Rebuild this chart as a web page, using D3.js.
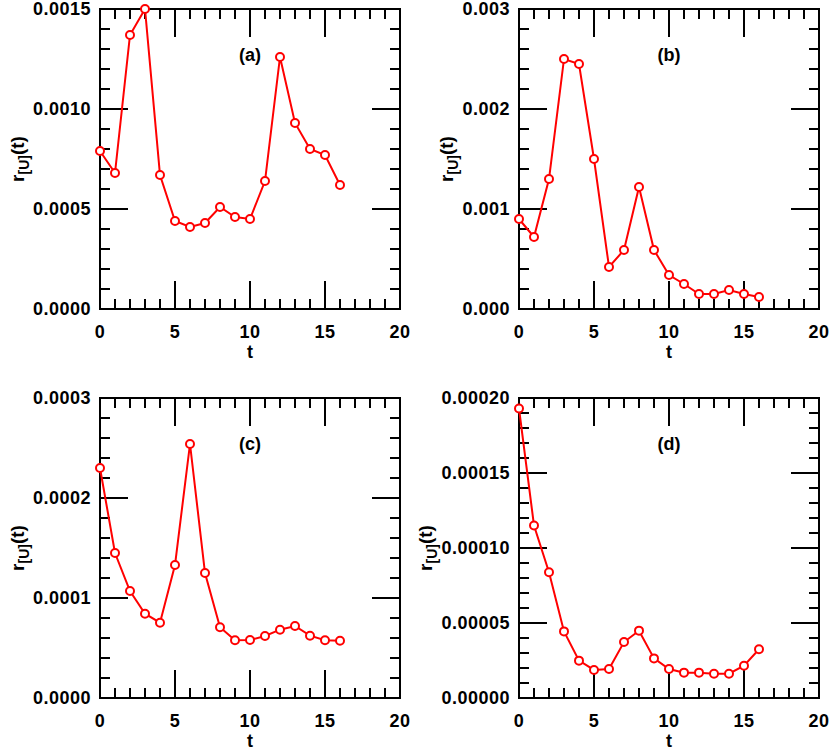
<!DOCTYPE html>
<html>
<head>
<meta charset="utf-8">
<script src="https://cdn.jsdelivr.net/npm/d3@7"></script>
<style>
  body { margin: 0; background: #fff; }
  text { font-family: "Liberation Sans", Arial, sans-serif; font-weight: bold; fill: #000; }
</style>
</head>
<body>
<svg width="830" height="750"></svg>
<script>
// time steps
var tValues = [0, 1, 2, 3, 4, 5, 6, 7, 8, 9, 10, 11, 12, 13, 14, 15, 16];

// r_[U](t)
var seriesA = [0.00079, 0.00068, 0.00137, 0.00150, 0.00067, 0.00044, 0.00041, 0.00043, 0.00051,
               0.00046, 0.00045, 0.00064, 0.00126, 0.00093, 0.00080, 0.00077, 0.00062];
var seriesB = [0.00090, 0.00072, 0.00130, 0.00250, 0.00245, 0.00150, 0.00042, 0.00059, 0.00122,
               0.00059, 0.00034, 0.00025, 0.00015, 0.00015, 0.00019, 0.00015, 0.00012];
var seriesC = [0.000230, 0.000145, 0.000107, 0.0000843, 0.0000753, 0.000133, 0.000254, 0.000125, 0.0000707,
               0.0000577, 0.000058, 0.000062, 0.0000683, 0.000072, 0.0000623, 0.0000577, 0.0000573];
var seriesD = [0.000193, 0.000115, 0.0000838, 0.0000444, 0.0000249, 0.0000187, 0.0000193, 0.0000373, 0.0000449,
               0.0000264, 0.0000193, 0.0000169, 0.0000169, 0.0000162, 0.0000162, 0.0000215, 0.0000325];

var panelLabels = ["(a)", "(b)", "(c)", "(d)"];
var yMax = [0.0015, 0.003, 0.0003, 0.0002];
var yMajorStep = [0.0005, 0.001, 0.0001, 0.00005];
var yMinorStep = [0.0001, 0.0002, 0.00002, 0.00001];
var yDecimals = [4, 3, 4, 5];
var xTicks = [0, 5, 10, 15, 20];

var svg = d3.select("svg");

var pw = 300, ph = 300;
var origins = [[100, 9], [519, 9], [100, 398], [519, 398]];
var allSeries = [seriesA, seriesB, seriesC, seriesD];

allSeries.forEach(function(series, i) {
    var g = svg.append("g")
        .attr("transform", "translate(" + origins[i][0] + "," + origins[i][1] + ")");

    var x = d3.scaleLinear().domain([0, 20]).range([0, pw]);
    var y = d3.scaleLinear().domain([0, yMax[i]]).range([ph, 0]);

    var nMaj = Math.round(yMax[i] / yMajorStep[i]);
    var nMin = Math.round(yMax[i] / yMinorStep[i]);
    var yMaj = d3.range(nMaj + 1).map(function(k) { return k * yMajorStep[i]; });
    var yMin = d3.range(nMin + 1).map(function(k) { return k * yMinorStep[i]; });
    var xMin = d3.range(21);

    var fmt = d3.format("." + yDecimals[i] + "f");

    // ticks on all four sides, pointing inward
    var ticks = g.append("g").attr("stroke", "#000").attr("stroke-width", 2);
    xMin.forEach(function(v) {
        var big = xTicks.indexOf(v) >= 0;
        var len = big ? 28 : 10;
        ticks.append("line").attr("x1", x(v)).attr("x2", x(v)).attr("y1", ph).attr("y2", ph - len);
        ticks.append("line").attr("x1", x(v)).attr("x2", x(v)).attr("y1", 0).attr("y2", len);
    });
    yMin.forEach(function(v) {
        var big = yMaj.some(function(m) { return Math.abs(m - v) < 1e-12; });
        var len = big ? 28 : 10;
        ticks.append("line").attr("x1", 0).attr("x2", len).attr("y1", y(v)).attr("y2", y(v));
        ticks.append("line").attr("x1", pw).attr("x2", pw - len).attr("y1", y(v)).attr("y2", y(v));
    });

    // frame
    g.append("rect")
        .attr("width", pw).attr("height", ph)
        .attr("fill", "none").attr("stroke", "#000").attr("stroke-width", 2);

    // tick labels
    g.selectAll(".xl")
        .data(xTicks)
        .enter().append("text")
        .attr("x", function(d) { return x(d); })
        .attr("y", ph + 29)
        .attr("text-anchor", "middle")
        .style("font-size", "18px")
        .style("letter-spacing", "0.5px")
        .text(function(d) { return d; });

    var yl = g.selectAll(".yl")
        .data(yMaj)
        .enter().append("text")
        .attr("x", -9)
        .attr("y", function(d) { return y(d) + 6; })
        .attr("text-anchor", "end")
        .style("font-size", "18px")
        .style("letter-spacing", "0.5px")
        .text(function(d) { return fmt(d); });

    var minX = d3.min(yl.nodes(), function(n) { return n.getBBox().x; });

    // axis titles
    g.append("text")
        .attr("x", pw / 2)
        .attr("y", ph + 49)
        .attr("text-anchor", "middle")
        .style("font-size", "18px")
        .text("t");

    var lab = g.append("text")
        .attr("transform", "translate(" + (minX - 9) + "," + (ph / 2) + ") rotate(-90)")
        .attr("text-anchor", "middle")
        .style("font-size", "19px");
    lab.append("tspan").text("r");
    lab.append("tspan").attr("dy", 5).style("font-size", "14px").text("[U]");
    lab.append("tspan").attr("dy", -5).text("(t)");

    // panel letter
    g.append("text")
        .attr("x", x(10))
        .attr("y", 52)
        .attr("text-anchor", "middle")
        .style("font-size", "18px")
        .text(panelLabels[i]);

    var line = d3.line()
        .x(function(d, k) { return x(tValues[k]); })
        .y(function(d) { return y(d); });

    g.append("path")
        .datum(series)
        .attr("d", line)
        .attr("fill", "none")
        .attr("stroke", "#ff0000")
        .attr("stroke-width", 2);

    g.selectAll("circle")
        .data(series)
        .enter().append("circle")
        .attr("cx", function(d, k) { return x(tValues[k]); })
        .attr("cy", function(d) { return y(d); })
        .attr("r", 4)
        .attr("fill", "#fff")
        .attr("stroke", "#ff0000")
        .attr("stroke-width", 2);
});
</script>
</body>
</html>
